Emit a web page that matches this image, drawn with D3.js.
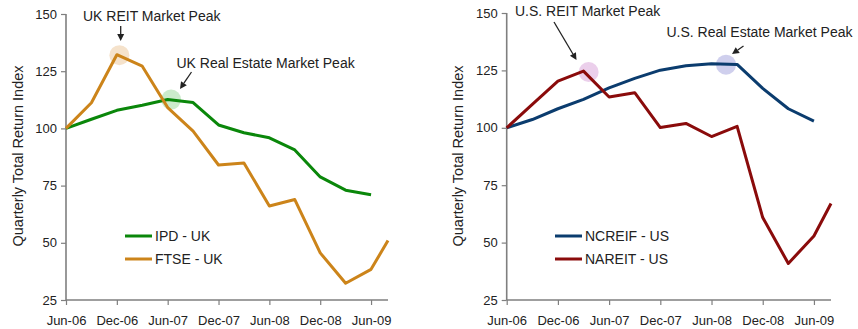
<!DOCTYPE html>
<html>
<head>
<meta charset="utf-8">
<script src="https://cdn.jsdelivr.net/npm/d3@7"></script>
<style>
  html, body { margin: 0; padding: 0; background: #fff; }
  svg { display: block; font-family: "Liberation Sans", Arial, sans-serif; }
</style>
</head>
<body>
<svg id="chart" width="858" height="329"></svg>
<script>
// Months elapsed since Jun-06 for each observation
const months = [0, 3, 6, 9, 12, 15, 18, 21, 24, 27, 30, 33, 36, 38];

// UK indices
const ipdUK  = [100, 104, 107.9, 110.1, 112.6, 111.3, 101.5, 98.1, 95.9, 90.6, 78.8, 73, 71];
const ftseUK = [100, 111.2, 132.2, 127.2, 109.1, 98.8, 84, 84.9, 66.1, 68.9, 45.6, 32.3, 38.4, 51];

// US indices
const ncreifUS = [100, 103.6, 108.3, 112.4, 117.4, 121.5, 125.1, 127, 127.9, 127.6, 117.2, 108.3, 102.9];
const nareitUS = [100, 110.2, 120.3, 124.7, 113.4, 115.3, 100.1, 101.9, 96.2, 100.6, 60.9, 40.9, 52.9, 67];

// Axis ticks
const xTickMonths = [0, 6, 12, 18, 24, 30, 36];
const xTickLabels = ["Jun-06", "Dec-06", "Jun-07", "Dec-07", "Jun-08", "Dec-08", "Jun-09"];
const yTicks = [25, 50, 75, 100, 125, 150];

const svg = d3.select("#chart");

function drawPanel(cfg) {
  const x = d3.scaleLinear().domain([0, 38]).range([cfg.x0, cfg.x1]);
  const y = d3.scaleLinear().domain([25, 150]).range([300, cfg.yTop]);
  const g = svg.append("g");

  // y axis
  const ya = g.append("g").attr("transform", `translate(${cfg.x0},0)`)
    .call(d3.axisLeft(y).tickValues(yTicks).tickSize(5).tickPadding(4));
  // x axis
  const xa = g.append("g").attr("transform", `translate(0,300)`)
    .call(d3.axisBottom(x).tickValues(xTickMonths)
      .tickFormat((d, i) => xTickLabels[i]).tickSize(5).tickPadding(11));
  [ya, xa].forEach(a => {
    a.select(".domain").attr("stroke", "#7f7f7f").attr("stroke-width", 1.6);
    a.selectAll(".tick line").attr("stroke", "#7f7f7f").attr("stroke-width", 1.2);
    a.selectAll(".tick text").attr("fill", "#222").style("font-size", "13px")
      .style("font-family", "'Liberation Sans', Arial, sans-serif");
  });
  ya.select(".domain").attr("d", `M0,${y(25)}V${y(150)}`);
  xa.select(".domain").attr("d", `M${x(0)},0H${x(38)}`);

  // y axis title
  g.append("text")
    .attr("transform", `translate(${cfg.titleX},${156}) rotate(-90)`)
    .attr("text-anchor", "middle")
    .style("font-size", "14.5px").attr("fill", "#222")
    .text("Quarterly Total Return Index");

  // peak highlight circles
  cfg.peaks.forEach(p => {
    g.append("circle").attr("cx", x(p.m)).attr("cy", y(p.v)).attr("r", 10)
      .attr("fill", p.fill);
  });

  const line = d3.line().x((d, i) => x(months[i])).y(d => y(d));
  cfg.series.forEach(s => {
    g.append("path").datum(s.values).attr("d", line)
      .attr("fill", "none").attr("stroke", s.color).attr("stroke-width", 3)
      .attr("stroke-linejoin", "round");
  });

  // annotations with arrows
  cfg.notes.forEach(n => {
    g.append("text").attr("x", n.tx).attr("y", n.ty)
      .style("font-size", "14px").attr("fill", "#222").text(n.text);
    const [ax, ay, bx, by] = n.arrow;
    const ang = Math.atan2(by - ay, bx - ax);
    const hl = 7, hw = 3.5;
    const px = bx - hl * Math.cos(ang), py = by - hl * Math.sin(ang);
    g.append("line").attr("x1", ax).attr("y1", ay).attr("x2", px).attr("y2", py)
      .attr("stroke", "#222").attr("stroke-width", 1.3);
    g.append("path")
      .attr("d", `M${bx},${by}L${px + hw * Math.sin(ang)},${py - hw * Math.cos(ang)}L${px - hw * Math.sin(ang)},${py + hw * Math.cos(ang)}Z`)
      .attr("fill", "#222");
  });

  // legend
  cfg.series.forEach((s, i) => {
    const ly = cfg.legendY + i * 23;
    g.append("line").attr("x1", cfg.legendX).attr("x2", cfg.legendX + 27)
      .attr("y1", ly).attr("y2", ly).attr("stroke", s.color).attr("stroke-width", 3);
    g.append("text").attr("x", cfg.legendX + 30).attr("y", ly + 5)
      .style("font-size", "14px").attr("fill", "#222").text(s.name);
  });
}

drawPanel({
  x0: 66, x1: 388, yTop: 14, titleX: 22.5,
  series: [
    { name: "IPD - UK", values: ipdUK, color: "#0a870a" },
    { name: "FTSE - UK", values: ftseUK, color: "#cc841a" }
  ],
  peaks: [
    { m: 6.3, v: 132, fill: "rgba(232,190,140,0.45)" },
    { m: 12.4, v: 112.6, fill: "rgba(140,210,140,0.45)" }
  ],
  notes: [
    { text: "UK REIT Market Peak", tx: 83, ty: 21, arrow: [120.7, 26, 120.7, 41] },
    { text: "UK Real Estate Market Peak", tx: 176.5, ty: 68, arrow: [191.5, 72, 180, 89] }
  ],
  legendX: 125, legendY: 236
});

drawPanel({
  x0: 506.7, x1: 831, yTop: 13, titleX: 463,
  series: [
    { name: "NCREIF - US", values: ncreifUS, color: "#0b3c6e" },
    { name: "NAREIT - US", values: nareitUS, color: "#8a0b0b" }
  ],
  peaks: [
    { m: 9.6, v: 124.3, fill: "rgba(215,160,215,0.5)" },
    { m: 25.7, v: 127.5, fill: "rgba(160,160,220,0.5)" }
  ],
  notes: [
    { text: "U.S. REIT Market Peak", tx: 515, ty: 16, arrow: [554, 22, 576.5, 60] },
    { text: "U.S. Real Estate Market Peak", tx: 666.5, ty: 37, arrow: [743.5, 46, 732, 54] }
  ],
  legendX: 555, legendY: 236
});
</script>
</body>
</html>
